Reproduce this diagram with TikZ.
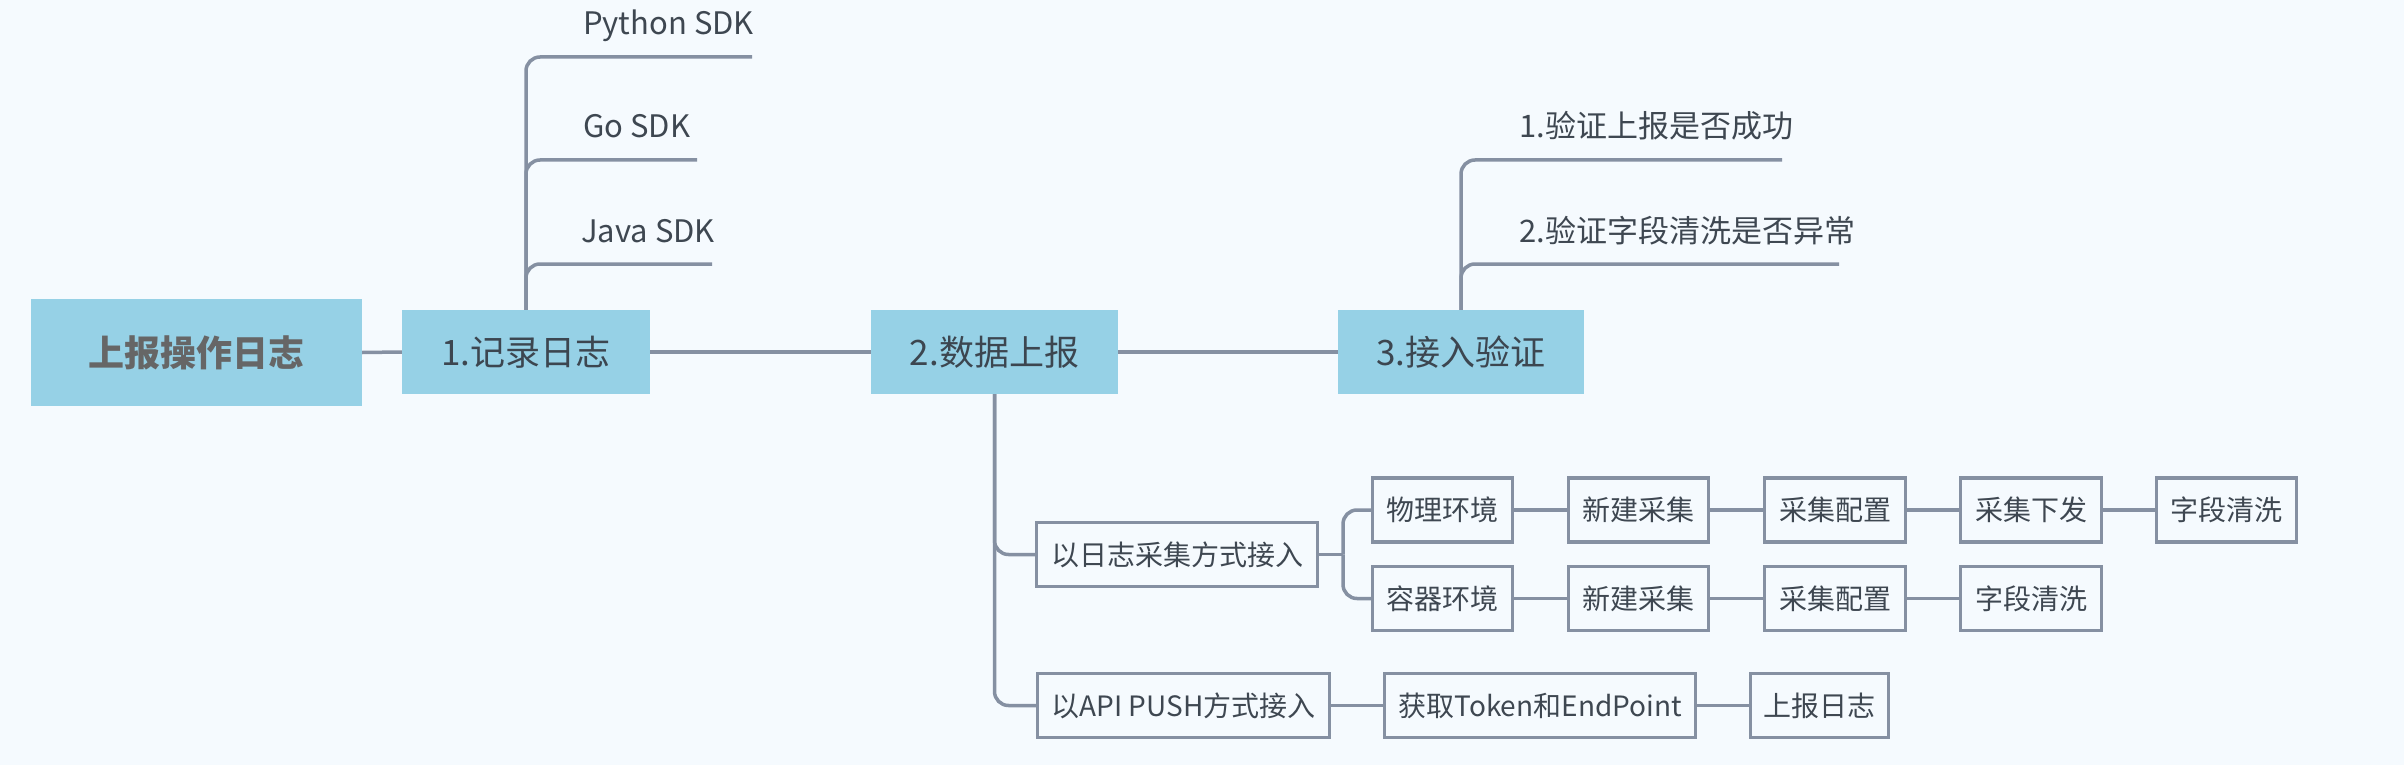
\documentclass[tikz,border=0pt]{standalone}
\usepackage{fontspec}
\setmainfont{Noto Sans CJK SC}
\definecolor{bgc}{HTML}{F5FAFE}
\definecolor{boxc}{HTML}{96D1E6}
\definecolor{linec}{HTML}{8590A2}
\definecolor{topt}{HTML}{3C4650}
\definecolor{roott}{HTML}{666666}
\definecolor{leaft}{HTML}{3E4751}
\begin{document}
\begin{tikzpicture}[x=1pt,y=-1pt,
  conn/.style={draw=linec, line width=3.5pt},
  rcon/.style={conn, rounded corners=14pt},
  rootbox/.style={fill=boxc, text=roott, font=\fontsize{36}{40}\selectfont\bfseries, minimum width=331pt, minimum height=107pt, inner sep=0pt},
  topbox/.style={fill=boxc, text=topt, font=\fontsize{35}{40}\selectfont, minimum height=84pt, inner sep=0pt},
  subbox/.style={draw=linec, line width=3.4pt, fill=bgc, text=leaft, font=\fontsize{28}{32}\selectfont, minimum height=64pt, inner sep=0pt},
  leaf/.style={anchor=base west, text=leaft, font=\fontsize{31}{36}\selectfont, inner sep=0pt}]
\fill[bgc] (0,0) rectangle (2404,765);
\useasboundingbox (0,0) rectangle (2404,765);
% main nodes
\node[rootbox] (root) at (196.5,352.5) {上报操作日志};
\node[topbox, minimum width=248pt] (n1) at (526,352) {1.记录日志};
\node[topbox, minimum width=247pt] (n2) at (994.5,352) {2.数据上报};
\node[topbox, minimum width=246pt] (n3) at (1461,352) {3.接入验证};
% leaves
\node[leaf] (py) at (583,35) {Python SDK};
\node[leaf] (go) at (583,138) {Go SDK};
\node[leaf] (java) at (581,242) {Java SDK};
\node[leaf] (v1) at (1519,138) {1.验证上报是否成功};
\node[leaf] (v2) at (1519,242) {2.验证字段清洗是否异常};
\coordinate (pyE) at (752,57);
\coordinate (goE) at (697,160);
\coordinate (javaE) at (712,264);
\coordinate (v1E) at (1782,160);
\coordinate (v2E) at (1839,264);
% sub boxes
\node[subbox, minimum width=281pt] (log) at (1177,554.5) {以日志采集方式接入};
\node[subbox, minimum width=292pt] (api) at (1183.5,705.5) {以API PUSH方式接入};
\node[subbox, minimum width=140pt] (phys) at (1442.5,510) {物理环境};
\node[subbox, minimum width=140pt] (cont) at (1442.5,598.5) {容器环境};
\node[subbox, minimum width=140pt] (new1) at (1638.5,510) {新建采集};
\node[subbox, minimum width=140pt] (new2) at (1638.5,598.5) {新建采集};
\node[subbox, minimum width=141pt] (cfg1) at (1835,510) {采集配置};
\node[subbox, minimum width=141pt] (cfg2) at (1835,598.5) {采集配置};
\node[subbox, minimum width=141pt] (dist1) at (2031,510) {采集下发};
\node[subbox, minimum width=141pt] (clean2) at (2031,598.5) {字段清洗};
\node[subbox, minimum width=140pt] (clean1) at (2226.5,510) {字段清洗};
\node[subbox, minimum width=311pt] (tok) at (1540,705.5) {获取Token和EndPoint};
\node[subbox, minimum width=138pt] (rep) at (1819.5,705.5) {上报日志};
\coordinate (fork) at (1343,554.5);
% connectors
\draw[conn] (root.east) -- (n1.west);
\draw[conn] (n1.east) -- (n2.west);
\draw[conn] (n2.east) -- (n3.west);
\draw[rcon] (n1.north) |- (pyE);
\draw[rcon] (n1.north) |- (goE);
\draw[rcon] (n1.north) |- (javaE);
\draw[rcon] (n3.north) |- (v1E);
\draw[rcon] (n3.north) |- (v2E);
\draw[rcon] (n2.south) |- (log.west);
\draw[rcon] (n2.south) |- (api.west);
\draw[conn] (log.east) -- (fork);
\draw[rcon] (fork) |- (phys.west);
\draw[rcon] (fork) |- (cont.west);
\draw[conn] (phys) -- (new1);
\draw[conn] (new1) -- (cfg1);
\draw[conn] (cfg1) -- (dist1);
\draw[conn] (dist1) -- (clean1);
\draw[conn] (cont) -- (new2);
\draw[conn] (new2) -- (cfg2);
\draw[conn] (cfg2) -- (clean2);
\draw[conn] (api) -- (tok);
\draw[conn] (tok) -- (rep);
\end{tikzpicture}
\end{document}
